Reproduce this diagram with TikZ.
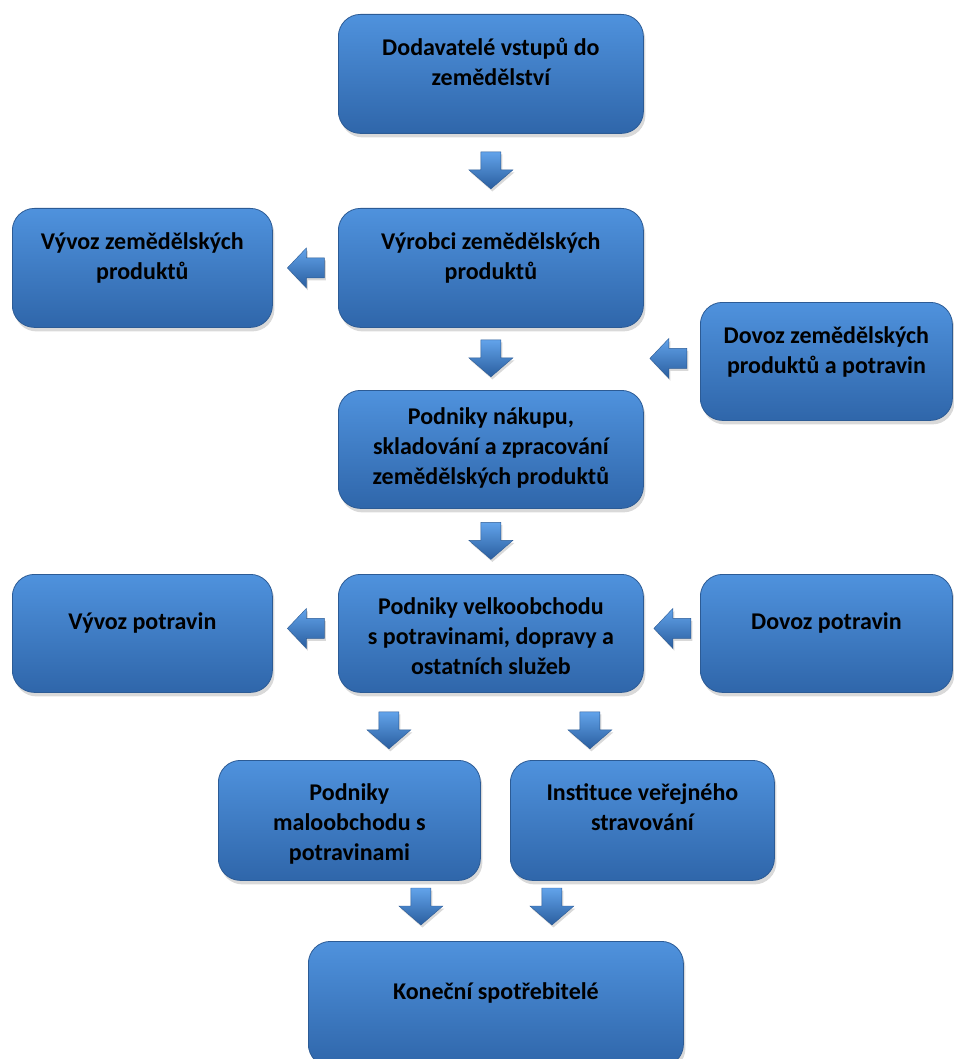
\documentclass[tikz,border=0pt]{standalone}
\usepackage{fontspec}
\setmainfont{Carlito}
\usetikzlibrary{shadows,calc}
\definecolor{btop}{HTML}{4F92DD}
\definecolor{bbot}{HTML}{2F66AA}
\definecolor{bedge}{HTML}{2C5B95}
\definecolor{atop}{HTML}{62A3EA}
\definecolor{abot}{HTML}{2A5E9F}
\newcommand\bt[4]{\parbox[c][#2pt][t]{#1pt}{\centering\vspace*{#3pt}\strut #4}}
\tikzset{
  box/.style={rectangle, rounded corners=22pt, draw=bedge, line width=0.8pt,
    top color=btop, bottom color=bbot,
    drop shadow={opacity=0.3, shadow xshift=2pt, shadow yshift=-4pt},
    inner sep=0pt, anchor=north west,
    font=\bfseries\fontsize{24}{30}\selectfont},
  arrowfill/.style={top color=atop, bottom color=abot, draw=bedge, line width=0.4pt,
    drop shadow={opacity=0.3, shadow xshift=1.5pt, shadow yshift=-2.5pt}},
  darr/.pic={\path[arrowfill] (-10,19) -- (10,19) -- (10,1) -- (22,1) -- (0,-18) -- (-22,1) -- (-10,1) -- cycle;},
  larr/.pic={\path[arrowfill] (19,10) -- (19,-10) -- (1,-10) -- (1,-20) -- (-18,0) -- (1,20) -- (1,10) -- cycle;}
}
\begin{document}
\begin{tikzpicture}[x=1pt,y=1pt]
\useasboundingbox (0,0) rectangle (953,-1059);
\node[box] (n1) at (338,-14) {\bt{305}{119}{20}{Dodavatelé vstupů do\\zemědělství}};
\node[box] (n2) at (338,-208) {\bt{305}{119}{20}{Výrobci zemědělských\\produktů}};
\node[box] (n3) at (12,-208) {\bt{260}{119}{20}{Vývoz zemědělských\\produktů}};
\node[box] (n4) at (700,-302) {\bt{252}{118}{20}{Dovoz zemědělských\\produktů a potravin}};
\node[box] (n5) at (338,-390) {\bt{305}{118}{13}{Podniky nákupu,\\skladování a zpracování\\zemědělských produktů}};
\node[box] (n6) at (12,-574) {\bt{260}{118}{34}{Vývoz potravin}};
\node[box] (n7) at (338,-574) {\bt{305}{118}{19}{Podniky velkoobchodu\\s potravinami, dopravy a\\ostatních služeb}};
\node[box] (n8) at (700,-574) {\bt{252}{118}{34}{Dovoz potravin}};
\node[box] (n9) at (218,-760) {\bt{262}{120}{19}{Podniky\\maloobchodu s\\potravinami}};
\node[box] (n10) at (510,-760) {\bt{264}{120}{19}{Instituce veřejného\\stravování}};
\node[box] (n11) at (308,-941) {\bt{375}{125}{37}{Konečn\'{\i} spotřebitelé}};
% connectors (block arrows)
\coordinate (a12) at ($(n1.south)!0.5!(n2.north)$);
\pic at (a12) {darr};
\coordinate (a23) at ($(n3.east)!0.5!(n2.west)$);
\pic at (a23) {larr};
\coordinate (a25) at ($(n2.south)!0.5!(n5.north)$);
\pic at (a25) {darr};
\coordinate (m45) at ($(n5.east)!0.5!(n4.west)$);
\coordinate (a45) at ($(m45 |- n4.west)+(-4,3)$);
\pic at (a45) {larr};
\coordinate (a57) at ($(n5.south)!0.5!(n7.north)$);
\pic at (a57) {darr};
\coordinate (a76) at ($(n6.east)!0.5!(n7.west)+(0,5)$);
\pic at (a76) {larr};
\coordinate (a87) at ($(n7.east)!0.5!(n8.west)+(0,5)$);
\pic at (a87) {larr};
\coordinate (a79) at ($(n7.south)+(-102,-38)$);
\pic at (a79) {darr};
\coordinate (a710) at ($(n7.south)+(99,-38)$);
\pic at (a710) {darr};
\coordinate (a911) at ($(n11.north)+(-75,34)$);
\pic at (a911) {darr};
\coordinate (a1011) at ($(n11.north)+(56,34)$);
\pic at (a1011) {darr};
\end{tikzpicture}
\end{document}
